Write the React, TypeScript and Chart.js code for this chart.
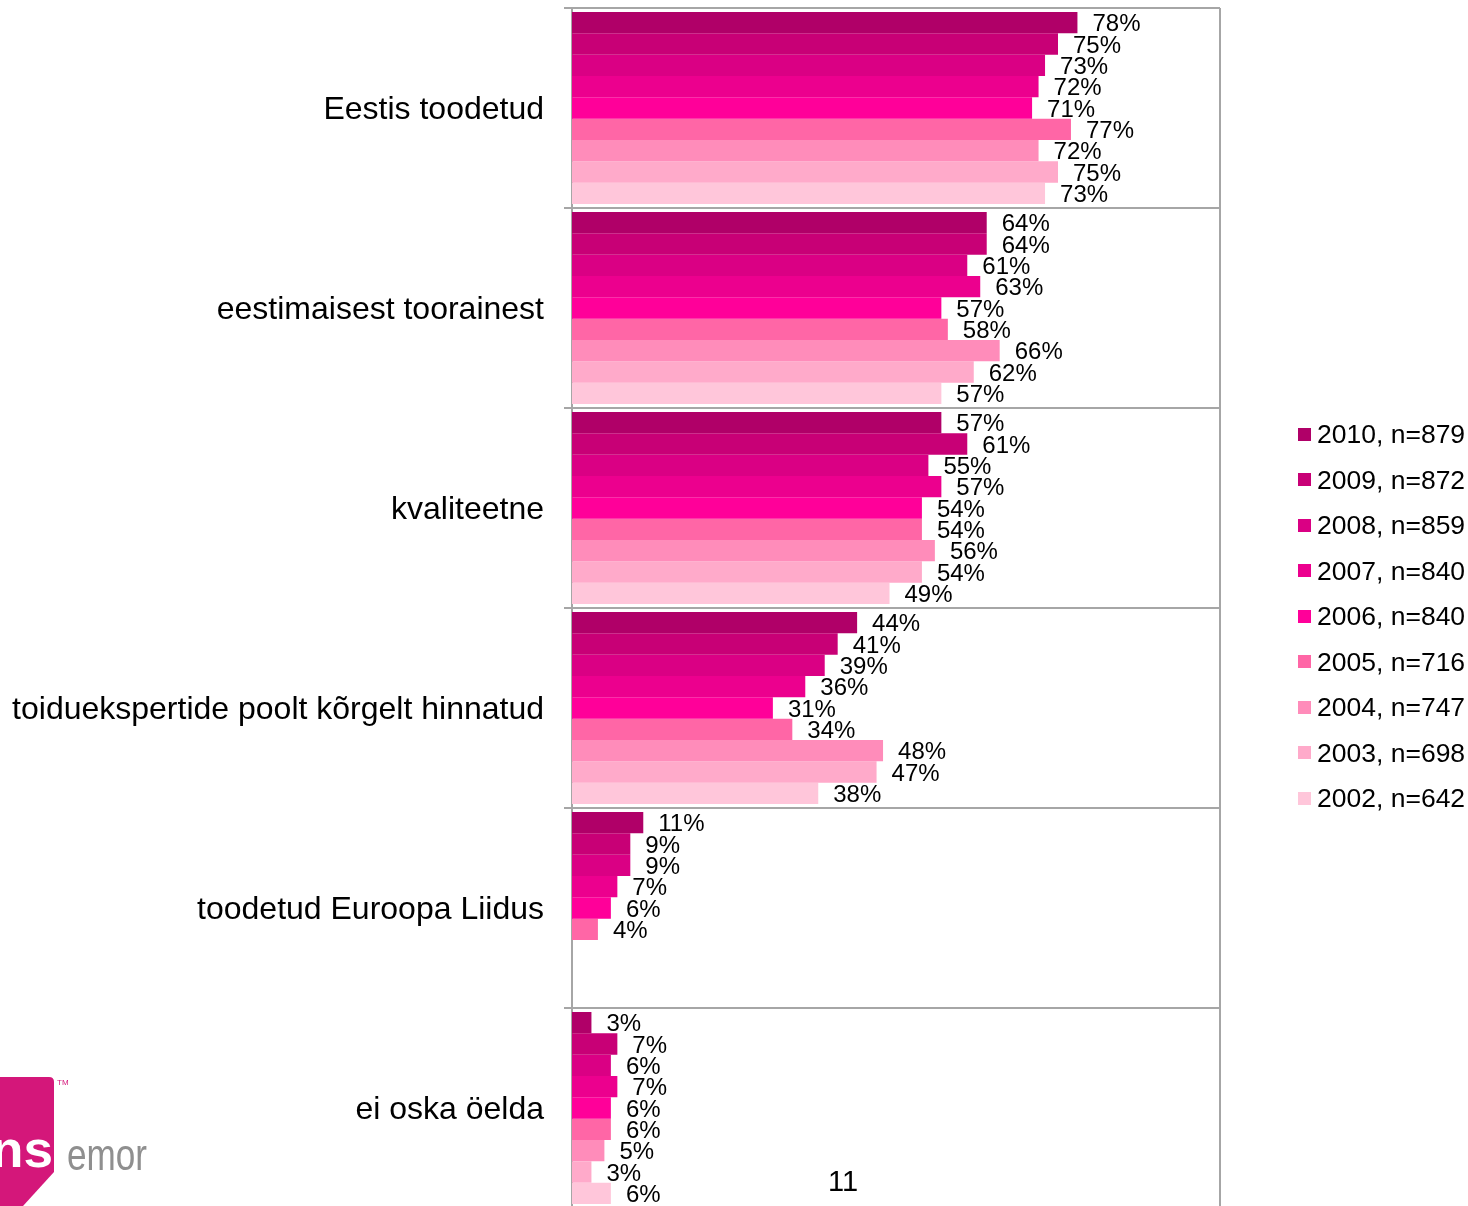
import React, { useEffect, useRef } from "react";
import { Chart, registerables } from "chart.js";

Chart.register(...registerables);

const categories = [
  "Eestis toodetud",
  "eestimaisest toorainest",
  "kvaliteetne",
  "toiduekspertide poolt kõrgelt hinnatud",
  "toodetud Euroopa Liidus",
  "ei oska öelda",
];

const seriesLabels = [
  "2010, n=879",
  "2009, n=872",
  "2008, n=859",
  "2007, n=840",
  "2006, n=840",
  "2005, n=716",
  "2004, n=747",
  "2003, n=698",
  "2002, n=642",
];

const s2010 = [78, 64, 57, 44, 11, 3];
const s2009 = [75, 64, 61, 41, 9, 7];
const s2008 = [73, 61, 55, 39, 9, 6];
const s2007 = [72, 63, 57, 36, 7, 7];
const s2006 = [71, 57, 54, 31, 6, 6];
const s2005 = [77, 58, 54, 34, 4, 6];
const s2004 = [72, 66, 56, 48, null, 5];
const s2003 = [75, 62, 54, 47, null, 3];
const s2002 = [73, 57, 49, 38, null, 6];

const seriesValues = [s2010, s2009, s2008, s2007, s2006, s2005, s2004, s2003, s2002];

const seriesColors = [
  "#B00068",
  "#C80076",
  "#DA0084",
  "#EC008E",
  "#FF0099",
  "#FF66A6",
  "#FF8CBA",
  "#FFAACA",
  "#FFC6DA",
];

const FONT = "'Liberation Sans', Arial, sans-serif";

const valueLabels = {
  id: "valueLabels",
  afterDatasetsDraw(chart: any) {
    const ctx = chart.ctx;
    ctx.save();
    ctx.font = `24px ${FONT}`;
    ctx.fillStyle = "#000";
    ctx.textAlign = "left";
    ctx.textBaseline = "middle";
    chart.data.datasets.forEach((ds: any, i: number) => {
      const meta = chart.getDatasetMeta(i);
      meta.data.forEach((el: any, j: number) => {
        const v = ds.data[j];
        if (v === null || v === undefined) return;
        ctx.fillText(`${v}%`, el.x + 15, el.y + 2);
      });
    });
    ctx.restore();
  },
};

const rightBorder = {
  id: "rightBorder",
  afterDraw(chart: any) {
    const { ctx, chartArea } = chart;
    ctx.save();
    ctx.strokeStyle = "#a6a6a6";
    ctx.lineWidth = 2;
    ctx.beginPath();
    ctx.moveTo(chartArea.right, chartArea.top);
    ctx.lineTo(chartArea.right, chartArea.bottom);
    ctx.stroke();
    ctx.restore();
  },
};

export default function App() {
  const ref = useRef<HTMLCanvasElement | null>(null);

  useEffect(() => {
    if (!ref.current) return;
    const chart = new Chart(ref.current, {
      type: "bar",
      data: {
        labels: categories,
        datasets: seriesValues.map((vals, i) => ({
          label: seriesLabels[i],
          data: vals,
          backgroundColor: seriesColors[i],
          borderWidth: 0,
          barPercentage: 1,
          categoryPercentage: 0.96,
        })),
      },
      options: {
        indexAxis: "y",
        animation: false,
        responsive: false,
        maintainAspectRatio: false,
        devicePixelRatio: 1,
        layout: { padding: { top: 8, right: 248, bottom: 2, left: 0 } },
        plugins: {
          legend: { display: false },
          tooltip: { enabled: false },
        },
        scales: {
          x: { min: 0, max: 100, display: false },
          y: {
            type: "category",
            offset: true,
            grid: {
              offset: true,
              color: "#a6a6a6",
              lineWidth: 2,
              tickLength: 8,
              drawTicks: true,
            },
            border: { display: true, color: "#a6a6a6", width: 2 },
            ticks: {
              font: { size: 32, family: FONT },
              color: "#000",
              padding: 20,
              labelOffset: 2,
            },
            afterFit: (s: any) => {
              s.width = 572;
              s.paddingTop = 0;
              s.paddingBottom = 0;
            },
          },
        },
      } as any,
      plugins: [valueLabels, rightBorder],
    });
    return () => chart.destroy();
  }, []);

  return (
    <div
      style={{
        position: "fixed",
        left: 0,
        top: 0,
        width: 1468,
        height: 1206,
        overflow: "hidden",
        background: "#fff",
        fontFamily: FONT,
      }}
    >
      <canvas
        ref={ref}
        width={1468}
        height={1210}
        style={{ position: "absolute", left: 0, top: 0, width: 1468, height: 1210 }}
      />
      {seriesLabels.map((lab, i) => (
        <div
          key={lab}
          style={{
            position: "absolute",
            left: 1298,
            top: 434 + i * 45.5 - 16,
            height: 32,
            display: "flex",
            alignItems: "center",
            whiteSpace: "nowrap",
          }}
        >
          <div style={{ width: 13, height: 13, background: seriesColors[i], marginRight: 6 }} />
          <span style={{ fontSize: 26.5, color: "#000", lineHeight: "32px" }}>{lab}</span>
        </div>
      ))}
      <div
        style={{
          position: "absolute",
          left: 828,
          top: 1164,
          fontSize: 29,
          color: "#000",
          lineHeight: "34px",
        }}
      >
        11
      </div>
      <svg
        width={200}
        height={146}
        style={{ position: "absolute", left: 0, top: 1060 }}
      >
        <path d="M0 17 H49 Q54 17 54 22 V112 L23 146 H0 Z" fill="#D4177A" />
        <text
          x={53}
          y={107}
          textAnchor="end"
          fill="#fff"
          fontFamily={FONT}
          fontWeight="bold"
          fontSize={52}
          textLength={62}
          lengthAdjust="spacingAndGlyphs"
        >
          ns
        </text>
        <text
          x={67}
          y={110}
          fill="#8f8f8f"
          fontFamily={FONT}
          fontSize={44}
          textLength={80}
          lengthAdjust="spacingAndGlyphs"
        >
          emor
        </text>
        <text x={57} y={25} fill="#D4177A" fontFamily={FONT} fontSize={8}>
          TM
        </text>
      </svg>
    </div>
  );
}
